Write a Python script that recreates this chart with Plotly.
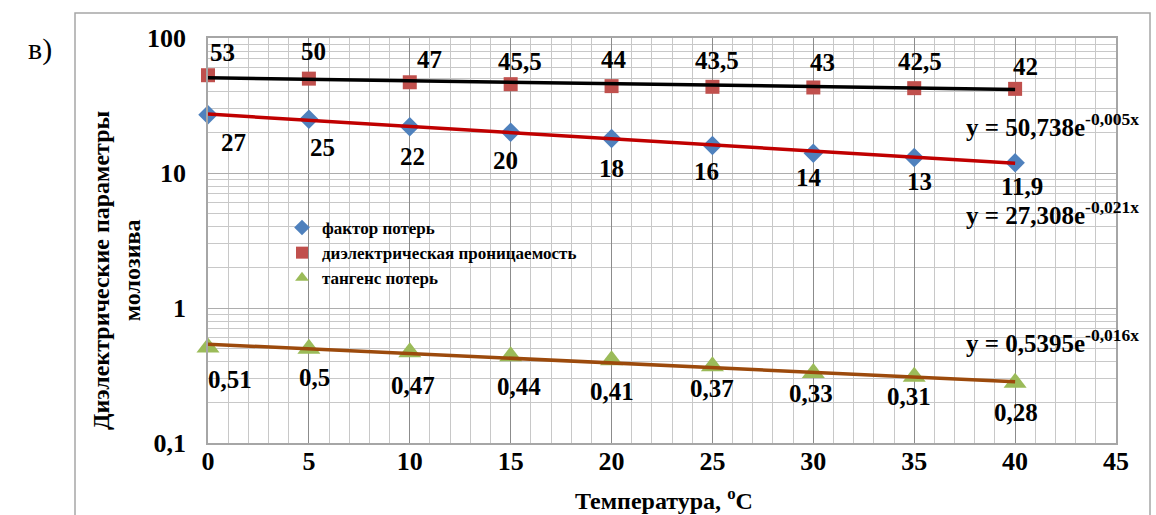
import plotly.graph_objects as go
import numpy as np

# ---------------- data ----------------
temperature = [0, 5, 10, 15, 20, 25, 30, 35, 40]
loss_factor = [27, 25, 22, 20, 18, 16, 14, 13, 11.9]
permittivity = [53, 50, 47, 45.5, 44, 43.5, 43, 42.5, 42]
loss_tangent = [0.51, 0.5, 0.47, 0.44, 0.41, 0.37, 0.33, 0.31, 0.28]

series_names = ["фактор потерь", "диэлектрическая проницаемость", "тангенс потерь"]

# exponential trendline coefficients y = a * exp(b x) as displayed
trend_perm = (50.738, -0.005)
trend_loss = (27.308, -0.021)
trend_tan = (0.5395, -0.016)
eq_texts = ["y = 50,738e<sup>-0,005x</sup>",
            "y = 27,308e<sup>-0,021x</sup>",
            "y = 0,5395e<sup>-0,016x</sup>"]

y_tickvals = [0.1, 1, 10, 100]
y_ticktext = ["0,1", "1", "10", "100"]
x_tickvals = [0, 5, 10, 15, 20, 25, 30, 35, 40, 45]

# ---------------- layout geometry ----------------
W, H = 1156, 515
PL, PR, PT, PB = 208, 1116, 38, 443
SERIF = "Liberation Serif, Times New Roman, serif"

def px_x(p):
    return (p - PL) / (PR - PL)

def px_y(p):
    return (PB - p) / (PB - PT)

def fmt(v):
    s = ("%g" % v).replace(".", ",")
    return s

# label offsets (pixels, right/up) relative to each marker
perm_off = [(14, 23), (5, 27), (20, 23), (9, 23), (2, 27), (5, 26), (9, 25), (6, 27), (10, 22)]
loss_off = [(25, -28), (14, -28), (3, -30), (-5, -28), (0, -30), (-6, -26), (-4, -24), (5, -24), (7, -24)]
tan_off = [(22, -32), (6, -29), (3, -33), (8, -30), (0, -31), (0, -22), (-2, -20), (-5, -20), (1, -30)]

fig = go.Figure()

# marker series
fig.add_trace(go.Scatter(x=temperature, y=loss_factor, mode="markers", name=series_names[0],
                         cliponaxis=False,
                         marker=dict(symbol="diamond", size=15, color="#4F81BD")))
fig.add_trace(go.Scatter(x=temperature, y=permittivity, mode="markers", name=series_names[1],
                         cliponaxis=False,
                         marker=dict(symbol="square", size=14, color="#C0504D")))
fig.add_trace(go.Scatter(x=temperature, y=loss_tangent, mode="markers", name=series_names[2],
                         cliponaxis=False,
                         marker=dict(symbol="triangle-up", size=20, color="#9BBB59")))

# trendlines
tx = np.array([temperature[0], temperature[-1]], dtype=float)
for (a, b), col in [(trend_perm, "#000000"), (trend_loss, "#C00000"), (trend_tan, "#9C4A0C")]:
    fig.add_trace(go.Scatter(x=tx, y=a * np.exp(b * tx), mode="lines", showlegend=False,
                             cliponaxis=False,
                             line=dict(color=col, width=3.5), hoverinfo="skip"))

annotations = []
label_font = dict(family=SERIF, size=25, color="black", weight="bold")
for vals, offs in [(permittivity, perm_off), (loss_factor, loss_off), (loss_tangent, tan_off)]:
    for xv, yv, (dx, dy) in zip(temperature, vals, offs):
        annotations.append(dict(x=xv, y=np.log10(yv), xref="x", yref="y", text=fmt(yv),
                                showarrow=False, xshift=dx, yshift=dy, font=label_font,
                                xanchor="center", yanchor="middle"))

# trendline equations
for txt, py in zip(eq_texts, [125, 213, 341]):
    annotations.append(dict(x=px_x(964), y=px_y(py), xref="paper", yref="paper", text=txt,
                            showarrow=False, xanchor="left", yanchor="middle",
                            font=dict(family=SERIF, size=25, color="black", weight="bold")))

# axis titles
annotations.append(dict(x=px_x(116), y=px_y(270), xref="paper", yref="paper",
                        text="Диэлектрические параметры<br>молозива", textangle=-90,
                        showarrow=False, xanchor="center", yanchor="middle",
                        font=dict(family=SERIF, size=24, color="black", weight="bold")))
annotations.append(dict(x=px_x(664), y=px_y(499), xref="paper", yref="paper",
                        text="Температура, <sup>o</sup>C",
                        showarrow=False, xanchor="center", yanchor="middle",
                        font=dict(family=SERIF, size=24, color="black", weight="bold")))
# panel label
annotations.append(dict(x=px_x(40), y=px_y(49), xref="paper", yref="paper", text="в)",
                        showarrow=False, xanchor="center", yanchor="middle",
                        font=dict(family=SERIF, size=30, color="black")))

fig.update_layout(
    width=W, height=H,
    margin=dict(l=PL, r=W - PR, t=PT, b=H - PB, pad=0),
    plot_bgcolor="white", paper_bgcolor="white",
    showlegend=True,
    legend=dict(x=px_x(282), y=px_y(210), xanchor="left", yanchor="top",
                bgcolor="rgba(0,0,0,0)", font=dict(family=SERIF, size=17, color="black", weight="bold"),
                itemsizing="constant", tracegroupgap=0),
    annotations=annotations,
    shapes=[dict(type="rect", xref="paper", yref="paper",
                 x0=px_x(75), x1=px_x(1150), y0=px_y(540), y1=px_y(13),
                 line=dict(color="#A6A6A6", width=1.5), layer="below")],
    hovermode=False,
)

fig.update_xaxes(range=[0, 45], tickvals=x_tickvals, showgrid=True, gridcolor="#8C8C8C", gridwidth=1.2,
                 minor=dict(dtick=1, showgrid=True, gridcolor="#C8C8C8", gridwidth=1.2),
                 showline=True, linecolor="#A6A6A6", linewidth=1.5, mirror=True, zeroline=False,
                 ticks="", ticklabelstandoff=-6,
                 tickfont=dict(family=SERIF, size=26, color="black", weight="bold"))
fig.update_yaxes(type="log", range=[-1, 2], tickvals=y_tickvals, ticktext=y_ticktext,
                 showgrid=True, gridcolor="#ADADAD", gridwidth=1.2,
                 minor=dict(dtick="D1", showgrid=True, gridcolor="#C8C8C8", gridwidth=1.2),
                 showline=True, linecolor="#A6A6A6", linewidth=1.5, mirror=True, zeroline=False,
                 ticks="", ticklabelstandoff=15,
                 tickfont=dict(family=SERIF, size=26, color="black", weight="bold"))

fig.write_html("out.html")
